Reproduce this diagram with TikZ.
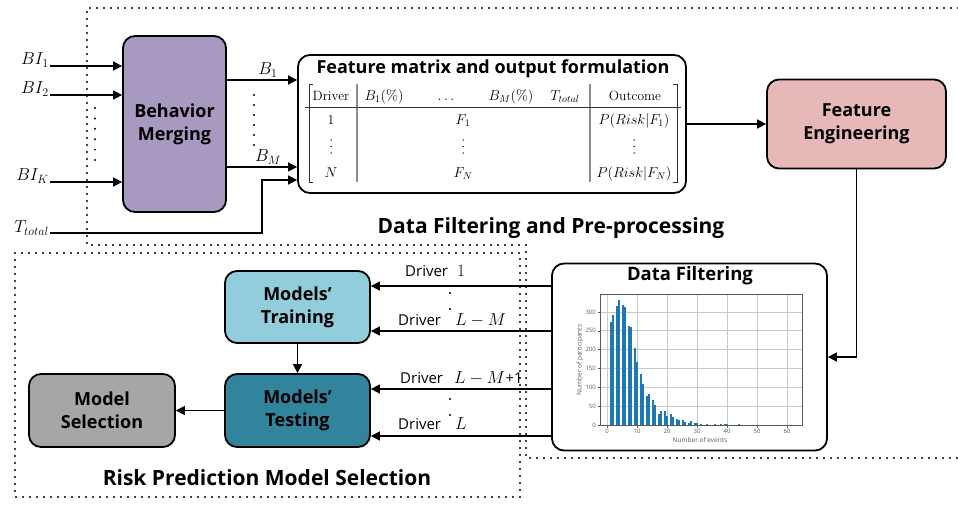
\documentclass[tikz,border=0pt]{standalone}
\usepackage{fontspec}
\setsansfont{Open Sans}
\usetikzlibrary{arrows.meta,calc}
\definecolor{cpurple}{RGB}{168,153,193}
\definecolor{cpink}{RGB}{230,185,184}
\definecolor{clblue}{RGB}{146,205,220}
\definecolor{cteal}{RGB}{49,132,155}
\definecolor{cgray}{RGB}{166,166,166}
\definecolor{histblue}{RGB}{31,119,180}
\definecolor{gridc}{RGB}{200,200,200}
\definecolor{axc}{RGB}{90,90,90}
\tikzset{
  box/.style={draw=black, line width=1.8pt, rounded corners=12pt, align=center,
    font=\sffamily\bfseries\fontsize{18}{23}\selectfont, inner sep=0pt},
  arr/.style={line width=1.6pt, -{Triangle[length=9pt,width=9pt]}},
  region/.style={line width=2.2pt, line cap=round, dash pattern=on 0pt off 7pt},
  bigm/.style={font=\fontsize{18}{20}\selectfont, inner sep=0pt},
  tab/.style={font=\fontsize{13.5}{15}\selectfont, inner sep=0pt, anchor=base},
  tabm/.style={font=\fontsize{14.5}{16}\selectfont, inner sep=0pt, anchor=base},
  drv/.style={font=\sffamily\fontsize{15}{18}\selectfont, inner sep=0pt, anchor=base west},
  drm/.style={font=\fontsize{16}{18}\selectfont, inner sep=0pt, anchor=base west},
  ttl/.style={font=\sffamily\bfseries\fontsize{21}{25}\selectfont, inner sep=0pt},
  tick/.style={font=\sffamily\fontsize{6}{7}\selectfont, text=axc, inner sep=0pt},
  dotn/.style={circle, fill=black, inner sep=0pt, minimum size=2.2pt},
  vd/.style={circle, fill=black, inner sep=0pt, minimum size=1.5pt}
}
\begin{document}
\begin{tikzpicture}[x=1pt,y=-1pt]
\useasboundingbox (0,0) rectangle (958,506);
\fill[white] (0,0) rectangle (958,506);

% dotted regions
\draw[region] (958,8) -- (87,8) -- (87,245) -- (526,245) -- (526,458) -- (958,458);
\draw[region] (15,253) -- (520,253) -- (520,497) -- (15,497) -- cycle;

% region titles
\node[ttl] (t1) at (551,228) {Data Filtering and Pre-processing};
\node[ttl] (t2) at (267,478) {Risk Prediction Model Selection};

% boxes
\node[box, fill=cpurple, minimum width=103pt, minimum height=176pt] (bm) at (174.5,124) {Behavior\\Merging};
\node[box, fill=white, minimum width=388pt, minimum height=138pt] (fm) at (492,124) {};
\node[box, fill=cpink, minimum width=179pt, minimum height=89pt] (fe) at (856.5,124) {Feature\\Engineering};
\node[box, fill=white, minimum width=275pt, minimum height=187pt] (df) at (689.5,357) {};
\node[box, fill=clblue, minimum width=145pt, minimum height=72pt] (tr) at (297.5,307) {Models’\\Training};
\node[box, fill=cteal, minimum width=145pt, minimum height=73pt] (te) at (297.5,410.5) {Models’\\Testing};
\node[box, fill=cgray, minimum width=146pt, minimum height=73pt] (ms) at (102,410.5) {Model\\Selection};

% titles inside boxes
\node[font=\sffamily\bfseries\fontsize{18}{22}\selectfont, inner sep=0pt] (fmt) at (493,69) {Feature matrix and output formulation};
\node[font=\sffamily\bfseries\fontsize{18.5}{22}\selectfont, inner sep=0pt] (dft) at (690,276) {Data Filtering};

% inputs
\coordinate (bi1) at (50,66);
\coordinate (bi2) at (50,95);
\coordinate (bik) at (50,182);
\coordinate (tt) at (50,233);
\node[bigm, anchor=east] (lbi1) at (49,60) {$BI_1$};
\node[bigm, anchor=east] (lbi2) at (49,89) {$BI_2$};
\node[bigm, anchor=east] (lbik) at (49,176) {$BI_K$};
\node[bigm, anchor=east] (ltt) at (49,228) {$T_{total}$};
\draw[arr] (bi1) -- (bm.west |- bi1);
\draw[arr] (bi2) -- (bm.west |- bi2);
\draw[arr] (bik) -- (bm.west |- bik);
\coordinate (tk) at (262,180);
\draw[arr] (tt) -| (tk) -- (fm.west |- tk);
\foreach \yy in {108,118.4,...,161} \fill (95,\yy) circle (1.1pt);

% outputs of behavior merging
\coordinate (b1) at (226,80);
\coordinate (bmm) at (226,167);
\draw[arr] (b1) -- (fm.west |- b1);
\draw[arr] (bmm) -- (fm.west |- bmm);
\node[bigm] (lb1) at (268,70) {$B_1$};
\node[bigm] (lbm) at (268,157) {$B_M$};
\foreach \yy in {95,105,...,146} \fill (254,\yy) circle (1.1pt);

% table
\draw[line width=0.8pt, black!80] (313,84) -- (309,84) -- (309,182) -- (313,182);
\draw[line width=0.8pt, black!80] (673,84) -- (677,84) -- (677,182) -- (673,182);
\draw[line width=1.2pt, black!45] (357,84) -- (357,182);
\draw[line width=1.2pt, black!45] (590,84) -- (590,182);
\draw[line width=0.8pt, black!80] (305,107) -- (681,107);
\node[tab] (h1) at (331,100) {Driver};
\node[tabm] (h2) at (384,100) {$B_1(\%)$};
\node[tabm] (h3) at (446,100) {$\dots$};
\node[tabm] (h4) at (511,100) {$B_M(\%)$};
\node[tabm] (h5) at (565,100) {$T_{total}$};
\node[tab] (h6) at (635,100) {Outcome};
\node[tab] (r11) at (331,124) {1};
\node[tabm] (r12) at (463,124) {$F_1$};
\node[tabm] (r13) at (634,124) {$P(Risk|F_1)$};
\foreach \xx/\nm in {331/a,463/b,634/c}{
  \node[vd] (v\nm1) at (\xx,140) {};
  \node[vd] (v\nm2) at (\xx,146.5) {};
  \node[vd] (v\nm3) at (\xx,153) {};
}
\node[tabm] (r31) at (331,177) {$N$};
\node[tabm] (r32) at (463,177) {$F_N$};
\node[tabm] (r33) at (634,177) {$P(Risk|F_N)$};

% feature matrix -> feature engineering -> data filtering
\draw[arr] (fm.east) -- (fe.west);
\draw[arr] (fe.south) |- (df.east);

% drivers
\draw[arr] (df.west |- 0,286) -- (tr.east |- 0,286);
\draw[arr] (df.west |- 0,331) -- (tr.east |- 0,331);
\draw[arr] (df.west |- 0,389) -- (te.east |- 0,389);
\draw[arr] (df.west |- 0,436) -- (te.east |- 0,436);
\node[drv] (d1) at (405,276) {Driver};
\node[drm] (m1) at (457,276) {$1$};
\node[drv] (d2) at (398,325) {Driver};
\node[drm] (m2) at (455,325) {$L-M$};
\node[drv] (d3) at (400,383) {Driver};
\node[drm] (m3) at (454,383) {$L-M$\kern0.5pt\sffamily\fontsize{15}{18}\selectfont+1};
\node[drv] (d4) at (398,429) {Driver};
\node[drm] (m4) at (455,429) {$L$};
\node[dotn] (p1) at (450,293) {};
\node[dotn] (p2) at (450,309) {};
\node[dotn] (p3) at (450,399) {};
\node[dotn] (p4) at (450,415) {};

% internal arrows
\draw[arr] (tr.south) -- (te.north);
\draw[arr] (te.west) -- (ms.east);

% histogram
\foreach \v in {0,10,...,60} {
  \draw[gridc, line width=0.6pt] ({607+3*\v},294) -- ({607+3*\v},425);
  \draw[axc, line width=0.5pt] ({607+3*\v},425) -- ({607+3*\v},427.5);
  \node[tick, anchor=north] at ({607+3*\v},429) {\v};
}
\foreach \v in {0,50,...,300} {
  \draw[gridc, line width=0.6pt] (600,{425-0.377*\v}) -- (802,{425-0.377*\v});
  \draw[axc, line width=0.5pt] (600,{425-0.377*\v}) -- (597.5,{425-0.377*\v});
  \node[tick, anchor=east] at (596,{425-0.377*\v}) {\v};
}
\foreach \n/\c in {1/272,2/292,3/316,4/332,5/318,6/314,7/262,8/260,9/205,10/168,
  11/135,12/110,13/77,14/82,15/67,16/53,17/30,18/37,19/36,20/24,21/29,22/20,23/16,
  24/14,25/12,26/8,27/5,28/10,29/4,30/5,31/2,32/1,33/2,34/1,36/3,37/1,38/2,39/3,
  40/2,41/1,42/1,44/2,45/1,46/1,62/1} {
  \pgfmathsetmacro\bx{610+2*floor(1.5*(\n-1))}
  \pgfmathsetmacro\by{425-0.377*\c}
  \fill[histblue] (\bx,425) rectangle ({\bx+1.7},\by);
}
\draw[axc, line width=0.6pt] (600,294) rectangle (802,425);
\node[tick, font=\sffamily\fontsize{6.5}{8}\selectfont] (xl) at (700,440) {Number of events};
\node[tick, font=\sffamily\fontsize{6.5}{8}\selectfont, rotate=90] (yl) at (580,360) {Number of participants};
\end{tikzpicture}
\end{document}
